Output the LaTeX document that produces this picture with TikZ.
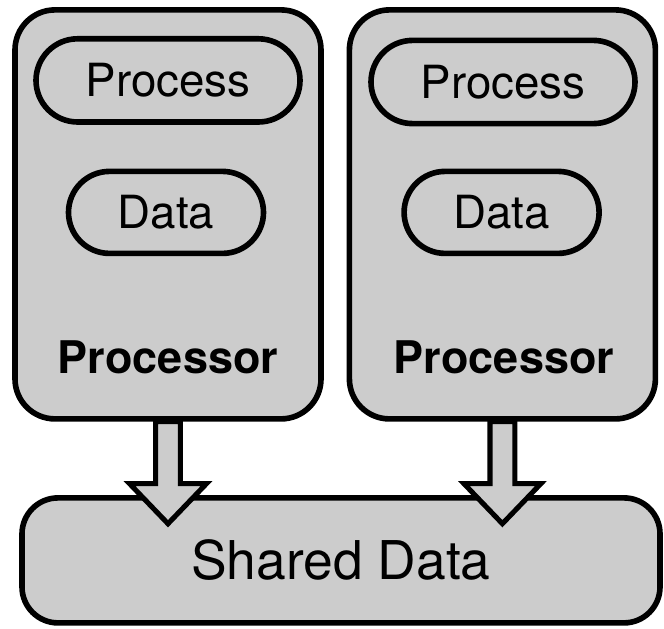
\documentclass[tikz,border=0pt]{standalone}
\usepackage{fontspec}
\setmainfont{TeX Gyre Heros}
\usetikzlibrary{shapes.misc, calc}
\definecolor{boxgray}{RGB}{204,204,204}
\tikzset{
    procbox/.style={draw, line width=4pt, fill=boxgray, rounded corners=1cm, minimum width=7.65cm, minimum height=10.225cm},
    pillbox/.style={draw, line width=4pt, fill=boxgray, rounded rectangle, inner sep=0pt, font=\fontsize{32.5}{38}\selectfont},
    proclabel/.style={font=\fontsize{32}{38}\selectfont\bfseries, inner sep=0pt},
    sharedbox/.style={draw, line width=4pt, fill=boxgray, rounded corners=0.9cm, minimum width=15.95cm, minimum height=3.125cm, font=\fontsize{38}{44}\selectfont},
    fatarrow/.style={draw, line width=3.6pt, fill=boxgray, line join=miter},
}

\begin{document}
\begin{tikzpicture}
\useasboundingbox (0,0) rectangle (16.6,15.7);

% shared memory at the bottom
\node[sharedbox] (shared) at (8.525,1.69) {Shared Data};

% two processors, each with its own process and local data
\node[procbox] (procL) at (4.2,10.34) {};
\node[procbox] (procR) at (12.56,10.34) {};

\node[pillbox, minimum width=6.6cm, minimum height=2.08cm] (procsL) at (4.2,13.69) {Process};
\node[pillbox, minimum width=4.875cm, minimum height=2.05cm] (dataL) at (4.15,10.39) {Data};
\node[proclabel] (labL) at ($(procL.south)+(0,1.62)$) {Processor};

\node[pillbox, minimum width=6.6cm, minimum height=2.08cm] (procsR) at (12.575,13.65) {Process};
\node[pillbox, minimum width=4.875cm, minimum height=2.05cm] (dataR) at (12.54,10.39) {Data};
\node[proclabel] (labR) at ($(procR.south)+(0.04,1.62)$) {Processor};

% block arrows down into the shared data
\foreach \p in {procL,procR} {
  \draw[fatarrow] ($(\p.south)+(-0.31,0)$) -- ++(0,-1.55) -- ++(-0.65,0)
    -- ($(\p.south)+(0,-2.55)$) -- ($(\p.south)+(0.96,-1.55)$)
    -- ++(-0.65,0) -- ($(\p.south)+(0.31,0)$) -- cycle;
}

\end{tikzpicture}
\end{document}
